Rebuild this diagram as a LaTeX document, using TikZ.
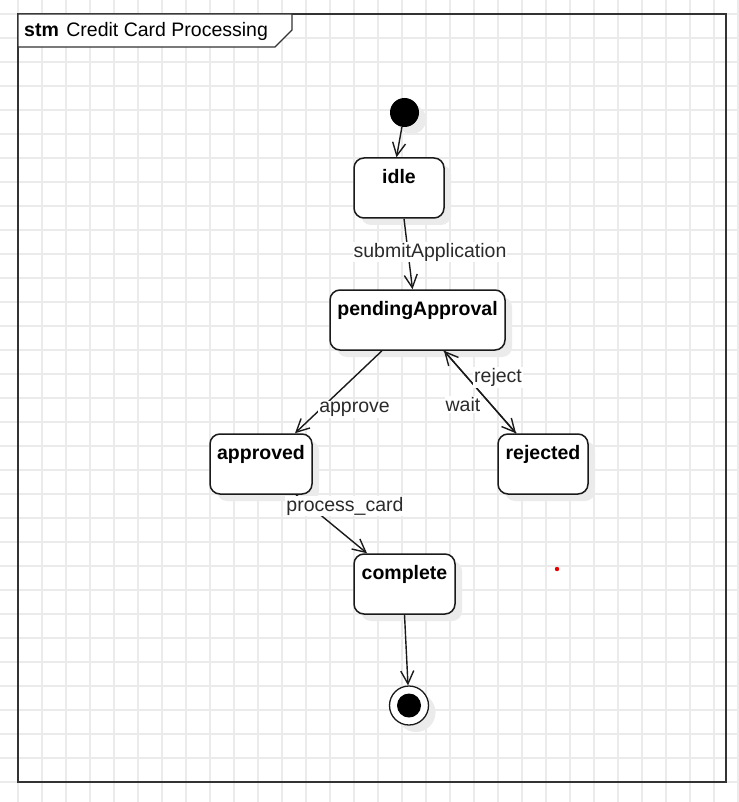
\documentclass[tikz,border=0pt]{standalone}
\usepackage{fontspec}
\setmainfont{Liberation Sans}
\usetikzlibrary{arrows.meta,shadows}
\definecolor{gridline}{HTML}{EBEBEB}
\definecolor{ink}{HTML}{1A1A1A}
\definecolor{framecol}{HTML}{333333}
\definecolor{labelink}{HTML}{2B2B2B}
\definecolor{shade}{HTML}{EBEBEB}

\begin{document}
\begin{tikzpicture}[x=1pt,y=-1pt,
  every node/.style={font=\fontsize{19.5}{23}\selectfont},
  shadowed/.style={drop shadow={shadow xshift=7pt, shadow yshift=-7pt, fill=shade, opacity=1}},
  statebox/.style={draw=ink, line width=1.5pt, fill=white, rounded corners=10pt,
    minimum width=#1, minimum height=60pt, inner sep=0pt, shadowed},
  statename/.style={anchor=base, yshift=-26.5pt, inner sep=0pt,
    font=\fontsize{19.5}{23}\selectfont\bfseries},
  initdot/.style={circle, fill=black, minimum size=29pt, inner sep=0pt, shadowed},
  finalring/.style={circle, draw=ink, line width=1.3pt, fill=white, minimum size=39pt, inner sep=0pt, shadowed},
  finalcore/.style={circle, fill=black, minimum size=24pt, inner sep=0pt},
  trans/.style={draw=ink, line width=1.4pt, -{Straight Barb[length=13pt,width=13pt]}},
  edgelabel/.style={fill=white, text=labelink, inner sep=1pt, anchor=base},
]
% canvas and background grid
\fill[white] (0,0) rectangle (738,802);
\useasboundingbox (0,0) rectangle (738,802);
\foreach \gx in {18,42,...,738} \draw[gridline, line width=1.2pt] (\gx,0) -- (\gx,802);
\foreach \gy in {14,38,...,802} \draw[gridline, line width=1.2pt] (0,\gy) -- (738,\gy);

% state machine frame with its name tab
\draw[framecol, line width=1.8pt] (18,14) rectangle (726,782);
\draw[framecol, line width=1.4pt, fill=white] (18,14) -- (292,14) -- (292,30) -- (275,47) -- (18,47) -- cycle;
\node[anchor=base west, inner sep=0pt] (title) at (24,36.5) {\textbf{stm}\hspace{7.5pt}Credit Card Processing};

% states
\node[initdot] (start) at (404.5,112.5) {};
\node[statebox=90pt, label={[statename]north:idle}] (idle) at (399,188) {};
\node[statebox=175pt, label={[statename]north:pendingApproval}] (pending) at (417.5,320) {};
\node[statebox=102pt, label={[statename]north:approved}] (approved) at (261,464) {};
\node[statebox=90pt, label={[statename]north:rejected}] (rejected) at (543,464) {};
\node[statebox=101pt, label={[statename]north:complete}] (complete) at (404.5,584) {};
\node[finalring] (end) at (409,705.5) {};
\node[finalcore] (endcore) at (end) {};

% transitions
\draw[trans] (start) -- ([xshift=-2.5pt]idle.north);
\draw[trans] ([xshift=5pt]idle.south) -- ([xshift=-5pt]pending.north);
\draw[trans] ([xshift=-35.5pt]pending.south) -- ([xshift=34pt]approved.north);
\draw[trans] ([xshift=26.5pt]pending.south) -- ([xshift=-27pt]rejected.north);
\draw[trans] ([xshift=-27pt]rejected.north) -- ([xshift=26.5pt]pending.south);
\draw[trans] ([xshift=35pt]approved.south) -- ([xshift=-37.5pt]complete.north);
\draw[trans] (complete.south) -- (end);

% transition labels
\node[edgelabel] (lblsubmit) at (430,257) {submitApplication};
\node[edgelabel] (lblapprove) at (354.5,412.5) {approve};
\node[edgelabel] (lblreject) at (498,382.5) {reject};
\node[edgelabel] (lblwait) at (463,411.5) {wait};
\node[edgelabel] (lblprocess) at (345,511) {process\_card};

% stray marker
\fill[red!90!black] (557,569) circle (2.2);
\end{tikzpicture}
\end{document}
